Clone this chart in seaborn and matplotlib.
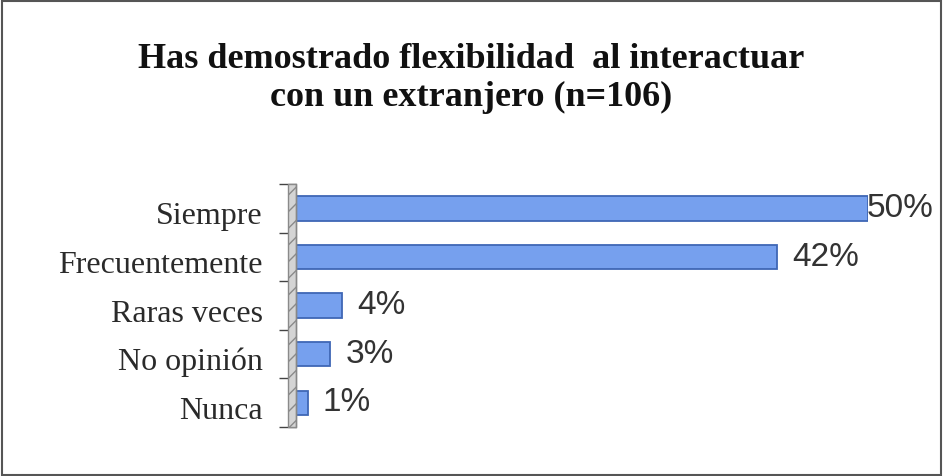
import matplotlib
matplotlib.use("Agg")
import matplotlib.pyplot as plt
import matplotlib.transforms as mtransforms
import seaborn as sns
import pandas as pd
from matplotlib.patches import Rectangle

categories = ["Siempre", "Frecuentemente", "Raras veces", "No opinión", "Nunca"]
values = [50, 42, 4, 3, 1]
labels = ["50%", "42%", "4%", "3%", "1%"]
title = "Has demostrado flexibilidad  al interactuar\ncon un extranjero (n=106)"

df = pd.DataFrame({"categoria": categories, "valor": values})

sns.set_style("white")

fig = plt.figure(figsize=(9.43, 4.76), dpi=100)
ax = fig.add_axes([0.314, 0.103, 0.6066, 0.51])

sns.barplot(data=df, y="categoria", x="valor", orient="h", ax=ax,
            color="#76A0EE", edgecolor="#3F67B5", linewidth=1.3,
            width=0.5, saturation=1)

ax.set_xlim(0, 50)
ax.set_ylim(4.5, -0.5)
ax.set_xlabel("")
ax.set_ylabel("")
ax.set_xticks([])
ax.set_yticks(range(len(categories)))
ax.set_yticklabels(categories, family="Liberation Serif", fontsize=23, color="#2a2a2a")
ax.tick_params(axis="y", length=0, pad=24)
# labels sit a little lower than the bars in the original
shift = mtransforms.ScaledTranslation(0, -5 / 100, fig.dpi_scale_trans)
for lab in ax.get_yticklabels():
    lab.set_transform(lab.get_transform() + shift)
ax.set_yticks([i - 0.5 for i in range(len(categories) + 1)], minor=True)
ax.tick_params(axis="y", which="minor", length=12, color="#444444", width=1, left=True)

for s in ["top", "right", "bottom"]:
    ax.spines[s].set_visible(False)
ax.spines["left"].set_color("#888888")
ax.spines["left"].set_linewidth(1)

# pseudo 3D wall on the left
wall = Rectangle((-0.014, 0), 0.014, 1, transform=ax.transAxes, clip_on=False,
                 facecolor="#D4D4D4", edgecolor="#8a8a8a", linewidth=1, hatch="//")
ax.add_patch(wall)

vmax = max(values)
for i, (v, t) in enumerate(zip(values, labels)):
    off = 11 if v < vmax else -1
    ax.annotate(t, xy=(v, i), xytext=(off, 0), textcoords="offset points",
                ha="left", va="center", fontsize=24, family="Liberation Sans",
                color="#333333", annotation_clip=False)

fig.text(0.5, 0.835, title, ha="center", va="center", fontsize=26,
         fontweight="bold", family="Liberation Serif", color="#111111",
         linespacing=1.2)

fig.patches.append(Rectangle((0.002, 0.003), 0.996, 0.994, transform=fig.transFigure,
                             fill=False, edgecolor="#555555", linewidth=1.5))

fig.savefig("out.png", dpi=100)
